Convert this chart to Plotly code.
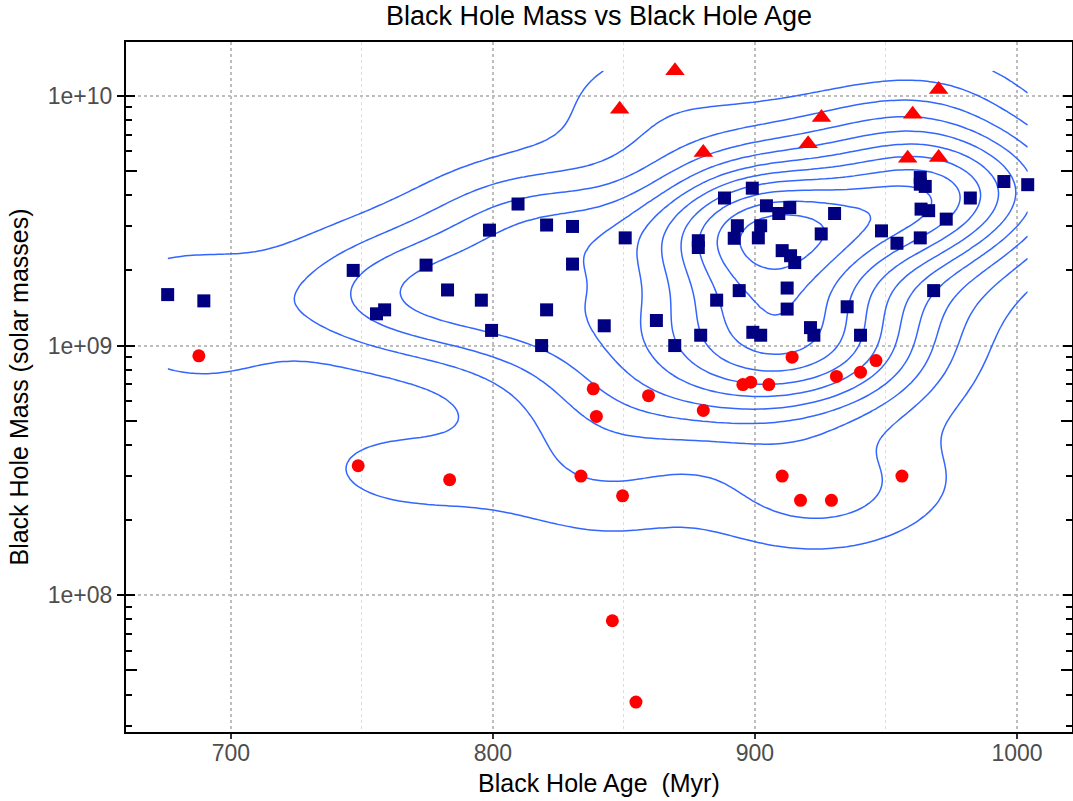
import numpy as np
import plotly.graph_objects as go

# Navy squares
square_age = [675.9, 689.7, 746.7, 755.6, 758.7, 774.5, 782.7, 795.6, 798.7, 799.5,
              809.6, 818.6, 820.5, 820.5, 830.4, 830.4, 842.5, 850.5, 862.4, 869.4,
              878.4, 878.4, 879.3, 885.4, 888.4, 892.1, 893.3, 894.0, 899.0, 899.2,
              901.3, 902.2, 902.2, 904.4, 909.1, 910.4, 912.3, 912.3, 913.3, 913.6,
              915.2, 921.2, 922.5, 925.3, 930.4, 935.2, 940.3, 948.3, 954.2, 963.1,
              963.1, 965.0, 963.4, 966.3, 963.1, 968.2, 973.0, 982.2, 995.0, 1004.1]
square_mass = [1.60e9, 1.51e9, 2.00e9, 1.34e9, 1.39e9, 2.10e9, 1.67e9, 1.52e9, 2.90e9, 1.15e9,
               3.69e9, 1.00e9, 3.04e9, 1.39e9, 3.00e9, 2.12e9, 1.20e9, 2.70e9, 1.26e9, 1.00e9,
               2.63e9, 2.47e9, 1.10e9, 1.52e9, 3.90e9, 2.69e9, 3.02e9, 1.66e9, 4.27e9, 1.13e9,
               2.70e9, 3.02e9, 1.10e9, 3.63e9, 3.38e9, 2.40e9, 1.70e9, 1.40e9, 3.57e9, 2.29e9,
               2.15e9, 1.18e9, 1.10e9, 2.80e9, 3.38e9, 1.43e9, 1.10e9, 2.88e9, 2.57e9, 4.71e9,
               4.43e9, 4.34e9, 3.52e9, 3.47e9, 2.70e9, 1.66e9, 3.21e9, 3.90e9, 4.54e9, 4.41e9]

# Red circles
circle_age = [687.8, 748.6, 783.5, 833.6, 838.3, 839.5, 845.6, 849.5, 854.6, 859.4, 880.3,
              895.4, 898.4, 905.3, 910.4, 914.2, 917.4, 929.2, 931.1, 940.3, 946.2, 956.1]
circle_mass = [9.10e8, 3.30e8, 2.90e8, 3.00e8, 6.71e8, 5.20e8, 7.90e7, 2.50e8, 3.73e7, 6.30e8, 5.50e8,
               6.98e8, 7.13e8, 6.98e8, 3.00e8, 8.98e8, 2.40e8, 2.40e8, 7.52e8, 7.82e8, 8.71e8, 3.00e8]

# Red triangles
tri_age = [848.4, 869.5, 880.3, 920.3, 925.4, 958.3, 960.2, 970.1, 970.1]
tri_mass = [8.85e9, 1.26e10, 5.93e9, 6.44e9, 8.19e9, 5.63e9, 8.45e9, 5.67e9, 1.06e10]

major_mass = [1e8, 1e9, 1e10]
major_text = ["1e+08", "1e+09", "1e+10"]


def bandwidth_nrd(v):
    q1, q3 = np.percentile(v, [25, 75])
    return 4 * 1.06 * min(np.std(v, ddof=1), (q3 - q1) / 1.34) * len(v) ** (-0.2)


def kde2d(x, y, n=120):
    # same idea as MASS::kde2d, on log10 mass
    hx = bandwidth_nrd(x) / 4
    hy = bandwidth_nrd(y) / 4
    gx = np.linspace(x.min(), x.max(), n)
    gy = np.linspace(y.min(), y.max(), n)
    dx = np.exp(-0.5 * ((gx[:, None] - x[None, :]) / hx) ** 2) / np.sqrt(2 * np.pi)
    dy = np.exp(-0.5 * ((gy[:, None] - y[None, :]) / hy) ** 2) / np.sqrt(2 * np.pi)
    z = dx @ dy.T / (len(x) * hx * hy)
    return gx, gy, z


def pretty_unit(lo, hi, ndiv=10):
    cell = (hi - lo) / ndiv
    base = 10 ** np.floor(np.log10(cell))
    unit = base
    if 2 * base - cell < 1.5 * (cell - unit):
        unit = 2 * base
        if 5 * base - cell < 2.75 * (cell - unit):
            unit = 5 * base
            if 10 * base - cell < 1.5 * (cell - unit):
                unit = 10 * base
    return unit


all_age = np.array(square_age + circle_age + tri_age)
all_logm = np.log10(np.array(square_mass + circle_mass + tri_mass))
gx, gy, z = kde2d(all_age, all_logm)
unit = pretty_unit(z.min(), z.max())

fig = go.Figure()

fig.add_trace(go.Contour(
    x=gx, y=10 ** gy, z=z.T,
    autocontour=False,
    contours=dict(start=unit, end=np.ceil(z.max() / unit) * unit, size=unit, coloring="lines"),
    colorscale=[[0, "#3366FF"], [1, "#3366FF"]],
    line=dict(width=1.5, smoothing=1),
    showscale=False, hoverinfo="skip",
))

fig.add_trace(go.Scatter(
    x=square_age, y=square_mass, mode="markers",
    marker=dict(symbol="square", size=13, color="#000080"), showlegend=False,
))
fig.add_trace(go.Scatter(
    x=circle_age, y=circle_mass, mode="markers",
    marker=dict(symbol="circle", size=13, color="#FF0000"), showlegend=False,
))
fig.add_trace(go.Scatter(
    x=tri_age, y=tri_mass, mode="markers",
    marker=dict(symbol="triangle-up", size=17, color="#FF0000"), showlegend=False,
))
# empty traces so the extra tick axes get drawn
fig.add_trace(go.Scatter(x=[], y=[], yaxis="y2", showlegend=False, hoverinfo="skip"))
fig.add_trace(go.Scatter(x=[], y=[], yaxis="y3", showlegend=False, hoverinfo="skip"))

yrange = [7.452, 10.216]
minor_vals = [k * 10 ** e for e in (7, 8, 9) for k in (2, 3, 4, 6, 7, 8, 9)]
five_vals = [5e7, 5e8, 5e9]

fig.update_layout(
    width=1073, height=801,
    margin=dict(l=126, r=1, t=42, b=69),
    plot_bgcolor="white", paper_bgcolor="white",
    font=dict(family="Liberation Sans, Arial, sans-serif", color="black"),
    title=dict(text="Black Hole Mass vs Black Hole Age", x=0.5, xref="paper",
               y=1 - 16 / 801, yref="container", yanchor="middle", font=dict(size=27)),
    xaxis=dict(
        range=[660.0, 1021.0], tickvals=[700, 800, 900, 1000],
        ticks="outside", ticklen=5, tickcolor="#333333", tickwidth=1.5,
        tickfont=dict(size=23, color="#4D4D4D"), ticklabelstandoff=-6,
        showline=True, linecolor="black", linewidth=2, mirror=True,
        showgrid=True, gridcolor="#BDBDBD", griddash="dot", gridwidth=1.5,
        minor=dict(tickvals=[750, 850, 950], showgrid=True, gridcolor="#DDDDDD",
                   griddash="dot", gridwidth=1),
        zeroline=False, automargin=False,
    ),
    yaxis=dict(
        type="log", range=yrange, tickvals=major_mass, ticktext=major_text,
        ticks="outside", ticklen=7, tickcolor="black", tickwidth=1.5,
        tickfont=dict(size=23, color="#4D4D4D"),
        showline=True, linecolor="black", linewidth=2, mirror="ticks",
        showgrid=True, gridcolor="#BDBDBD", griddash="dot", gridwidth=1.5,
        minor=dict(tickvals=minor_vals, ticks="inside", ticklen=6, tickcolor="black",
                   tickwidth=1.5, showgrid=False),
        zeroline=False, automargin=False,
        title=dict(text="Black Hole Mass (solar masses)", font=dict(size=25), standoff=12),
    ),
    yaxis2=dict(
        type="log", range=yrange, overlaying="y", anchor="x", side="left",
        tickvals=major_mass, ticks="inside", ticklen=9, tickcolor="black", tickwidth=1.5,
        mirror="ticks", showticklabels=False, showgrid=False, showline=False, zeroline=False,
    ),
    yaxis3=dict(
        type="log", range=yrange, overlaying="y", anchor="x", side="left",
        tickvals=five_vals, ticks="inside", ticklen=11, tickcolor="black", tickwidth=1.5,
        mirror="ticks", showticklabels=False, showgrid=False, showline=False, zeroline=False,
    ),
    annotations=[dict(
        text="Black Hole Age  (Myr)", xref="paper", yref="paper", x=0.5, y=-51 / 690,
        xanchor="center", yanchor="middle", showarrow=False, font=dict(size=25),
    )],
)

# drop the default 8px body margin so the figure sits at the page corner
fig.write_html("out.html", config={"displayModeBar": False},
               post_script="document.body.style.margin='0';")
